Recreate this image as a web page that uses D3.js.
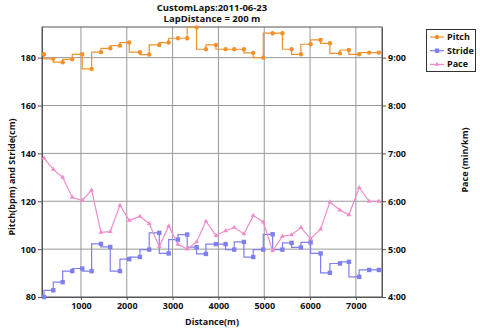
<!DOCTYPE html>
<html><head><meta charset="utf-8">
<script src="https://cdn.jsdelivr.net/npm/d3@7"></script>
<style>
body{margin:0;background:#fff}
svg{display:block}
text{font-family:"Open Sans","DejaVu Sans",sans-serif;font-weight:700;fill:#111}
</style></head>
<body><svg id="c" width="480" height="329"></svg>
<script>
const distance=[193,396,601,810,1028,1233,1436,1639,1851,2054,2287,2490,2709,2914,3117,3319,3524,3727,3946,4157,4345,4557,4760,4978,5183,5397,5597,5800,6012,6230,6433,6651,6848,7072,7290,7502];
const pitch=[181.4,179.5,178.1,179.3,181.4,175.3,182.3,183.9,185.0,186.3,182.3,181.3,185.3,186.3,188.1,188.1,192.6,183.5,185.3,183.5,183.5,183.5,182.0,180.0,190.2,190.2,183.5,181.4,185.6,187.4,186.0,181.8,183.2,181.4,182.1,182.1];
const stride=[80.0,82.8,86.2,90.8,91.9,90.8,102.2,100.9,90.8,95.8,96.7,99.8,106.8,98.2,104.0,106.1,100.8,98.0,102.1,102.1,99.8,103.0,96.7,99.8,106.2,99.8,102.6,100.7,102.8,98.2,90.1,94.0,94.7,88.4,91.3,91.3];
const paceSec=[414,400,390,365,361,374,321,322,355,336,341,332,303,329,306,300,309,335,317,323,327,319,342,334,298,316,318,327,313,325,359,349,343,377,360,360];
const xTicks=[1000,2000,3000,4000,5000,6000,7000];
const leftTicks=[80,100,120,140,160,180];
const rightTicks=[240,300,360,420,480,540];
const seriesNames=["Pitch","Stride","Pace"];
const colors={Pitch:"#f0922b",Stride:"#7f7fee",Pace:"#ef8ccb"};

const svg=d3.select("#c");
const L=42,R=382,T=27,B=297;
const x=d3.scaleLinear().domain([150,7570]).range([L,R]);
const yL=d3.scaleLinear().domain([80,192.8]).range([B,T]);
const yR=d3.scaleLinear().domain([240,578.4]).range([B,T]);
const fmt=s=>Math.floor(s/60)+":"+String(Math.round(s%60)).padStart(2,"0");

// grid
const g=svg.append("g");
g.selectAll(".vx").data(xTicks).join("line").attr("x1",d=>x(d)).attr("x2",d=>x(d)).attr("y1",T).attr("y2",B).attr("stroke","#999").attr("stroke-width",1);
g.selectAll(".hy").data(leftTicks.filter(d=>d>80)).join("line").attr("x1",L).attr("x2",R).attr("y1",d=>yL(d)).attr("y2",d=>yL(d)).attr("stroke","#999").attr("stroke-width",1);
svg.append("rect").attr("x",L).attr("y",T).attr("width",R-L).attr("height",B-T).attr("fill","none").attr("stroke","#555").attr("stroke-width",1);

// axes
const ax=svg.append("g").attr("transform",`translate(0,${B})`).call(d3.axisBottom(x).tickValues(xTicks).tickFormat(d3.format("d")).tickSize(3).tickSizeOuter(0));
const al=svg.append("g").attr("transform",`translate(${L},0)`).call(d3.axisLeft(yL).tickValues(leftTicks).tickSize(4).tickPadding(2).tickSizeOuter(0));
const ar=svg.append("g").attr("transform",`translate(${R},0)`).call(d3.axisRight(yR).tickValues(rightTicks).tickFormat(fmt).tickSize(4).tickPadding(2).tickSizeOuter(0));
[ax,al,ar].forEach(a=>{a.select(".domain").attr("stroke","#555");a.selectAll(".tick line").attr("stroke","#555");a.selectAll("text").attr("font-size",9).attr("fill","#111").style("font-family",'"Open Sans","DejaVu Sans",sans-serif').style("font-weight",700);});

// titles
svg.append("text").attr("x",212).attr("y",10.5).attr("text-anchor","middle").attr("font-size",9.5).text("CustomLaps:2011-06-23");
svg.append("text").attr("x",212).attr("y",22).attr("text-anchor","middle").attr("font-size",9.5).text("LapDistance = 200 m");
svg.append("text").attr("x",212).attr("y",325).attr("text-anchor","middle").attr("font-size",9).text("Distance(m)");
svg.append("text").attr("transform","translate(15,177) rotate(-90)").attr("text-anchor","middle").attr("font-size",9).text("Pitch(bpm) and Stride(cm)");
svg.append("text").attr("transform","translate(468,160) rotate(-90)").attr("text-anchor","middle").attr("font-size",9).text("Pace (min/km)");

// series
const idx=d3.range(distance.length);
const lineP=d3.line().x(i=>x(distance[i])).y(i=>yL(pitch[i])).curve(d3.curveStepBefore);
const lineS=d3.line().x(i=>x(distance[i])).y(i=>yL(stride[i])).curve(d3.curveStepBefore);
const lineV=d3.line().x(i=>x(distance[i])).y(i=>yR(paceSec[i]));
svg.append("path").attr("d",lineS(idx)).attr("fill","none").attr("stroke",colors.Stride).attr("stroke-width",1.2);
svg.append("path").attr("d",lineV(idx)).attr("fill","none").attr("stroke",colors.Pace).attr("stroke-width",1.2);
svg.append("path").attr("d",lineP(idx)).attr("fill","none").attr("stroke",colors.Pitch).attr("stroke-width",1.2);
svg.append("g").selectAll("rect").data(idx).join("rect").attr("x",i=>x(distance[i])-2.2).attr("y",i=>yL(stride[i])-2.2).attr("width",4.4).attr("height",4.4).attr("fill",colors.Stride);
const tri=d3.symbol().type(d3.symbolTriangle).size(10);
svg.append("g").selectAll("path").data(idx).join("path").attr("d",tri).attr("transform",i=>`translate(${x(distance[i])},${yR(paceSec[i])})`).attr("fill",colors.Pace);
svg.append("g").selectAll("circle").data(idx).join("circle").attr("cx",i=>x(distance[i])).attr("cy",i=>yL(pitch[i])).attr("r",2.2).attr("fill",colors.Pitch);

// legend
const lg=svg.append("g");
lg.append("rect").attr("x",426.5).attr("y",29.5).attr("width",49).attr("height",42).attr("fill","#fff").attr("stroke","#333");
seriesNames.forEach((n,k)=>{
  const yy=37+k*13.7;
  lg.append("line").attr("x1",430).attr("x2",444).attr("y1",yy).attr("y2",yy).attr("stroke",colors[n]).attr("stroke-width",1.2);
  if(n==="Pitch") lg.append("circle").attr("cx",437).attr("cy",yy).attr("r",2.2).attr("fill",colors[n]);
  else if(n==="Stride") lg.append("rect").attr("x",434.8).attr("y",yy-2.2).attr("width",4.4).attr("height",4.4).attr("fill",colors[n]);
  else lg.append("path").attr("d",tri).attr("transform",`translate(437,${yy})`).attr("fill",colors[n]);
  lg.append("text").attr("x",447).attr("y",yy+3).attr("font-size",9).text(n);
});
</script></body></html>
